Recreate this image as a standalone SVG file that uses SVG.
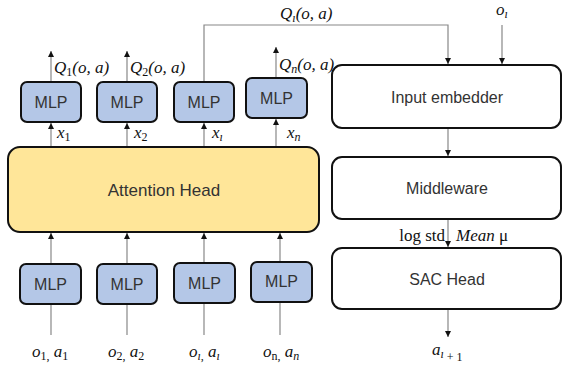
<svg xmlns="http://www.w3.org/2000/svg" width="564" height="375" viewBox="0 0 564 375">
<defs>
<marker id="ah" viewBox="0 0 8 8" refX="8" refY="4" markerWidth="6" markerHeight="6" markerUnits="userSpaceOnUse" orient="auto">
<path d="M0,0 L8,4 L0,8 z" fill="#111"/>
</marker>
<style>
.mlp{fill:#B4C7E7;stroke:#111;stroke-width:2}
.box{fill:#fff;stroke:#111;stroke-width:2}
.att{fill:#FFE699;stroke:#111;stroke-width:2}
.lbl{font-family:"Liberation Sans","Noto Sans",sans-serif;font-size:16px;fill:#333;text-anchor:middle}
.m{font-family:"Liberation Serif","DejaVu Serif",serif;font-style:italic;font-size:17px;fill:#111}
.r{font-family:"Liberation Serif","DejaVu Serif",serif;font-style:normal;font-size:17px;fill:#111}
.s{font-size:12px}
.c{fill:none;stroke:#888;stroke-width:1.2}
</style>
</defs>

<g id="connectors">
<path class="c" d="M51,335 V264" marker-end="url(#ah)"/>
<path class="c" d="M127,335 V264" marker-end="url(#ah)"/>
<path class="c" d="M204,335 V263" marker-end="url(#ah)"/>
<path class="c" d="M280,335 V262" marker-end="url(#ah)"/>
<path class="c" d="M51,263 V233" marker-end="url(#ah)"/>
<path class="c" d="M127,263 V233" marker-end="url(#ah)"/>
<path class="c" d="M204,262 V233" marker-end="url(#ah)"/>
<path class="c" d="M280,261 V233" marker-end="url(#ah)"/>
<path class="c" d="M51,147 V123" marker-end="url(#ah)"/>
<path class="c" d="M127,147 V123" marker-end="url(#ah)"/>
<path class="c" d="M204,147 V123" marker-end="url(#ah)"/>
<path class="c" d="M276,147 V119" marker-end="url(#ah)"/>
<path class="c" d="M51,82 V51" marker-end="url(#ah)"/>
<path class="c" d="M127,82 V51" marker-end="url(#ah)"/>
<path class="c" d="M276,78 V47" marker-end="url(#ah)"/>
<path class="c" d="M204,82 V25 H448 V64" marker-end="url(#ah)"/>
<path class="c" d="M502,25 V64" marker-end="url(#ah)"/>
<path class="c" d="M448,129 V156" marker-end="url(#ah)"/>
<path class="c" d="M448,220 V247" marker-end="url(#ah)"/>
<path class="c" d="M448,310 V337" marker-end="url(#ah)"/>
</g>

<g id="mlp-top-1"><rect class="mlp" x="21" y="82" width="60" height="40" rx="6"/><text class="lbl" x="51" y="108">MLP</text></g>
<g id="mlp-top-2"><rect class="mlp" x="97" y="82" width="60" height="40" rx="6"/><text class="lbl" x="127" y="108">MLP</text></g>
<g id="mlp-top-3"><rect class="mlp" x="174" y="82" width="60" height="40" rx="6"/><text class="lbl" x="204" y="108">MLP</text></g>
<g id="mlp-top-4"><rect class="mlp" x="246" y="78" width="61" height="40" rx="6"/><text class="lbl" x="276.5" y="104">MLP</text></g>

<g id="attention-head"><rect class="att" x="8" y="147" width="311" height="85" rx="12"/><text class="lbl" x="164" y="196" style="font-size:17px">Attention Head</text></g>

<g id="mlp-bot-1"><rect class="mlp" x="20" y="264" width="61" height="40" rx="6"/><text class="lbl" x="50.5" y="290">MLP</text></g>
<g id="mlp-bot-2"><rect class="mlp" x="97" y="264" width="60" height="40" rx="6"/><text class="lbl" x="127" y="290">MLP</text></g>
<g id="mlp-bot-3"><rect class="mlp" x="174" y="263" width="61" height="40" rx="6"/><text class="lbl" x="204.5" y="289">MLP</text></g>
<g id="mlp-bot-4"><rect class="mlp" x="251" y="262" width="61" height="40" rx="6"/><text class="lbl" x="281.5" y="287">MLP</text></g>

<g id="input-embedder"><rect class="box" x="332" y="65" width="229" height="63" rx="10"/><text class="lbl" x="447" y="103">Input embedder</text></g>
<g id="middleware"><rect class="box" x="332" y="157" width="229" height="62" rx="10"/><text class="lbl" x="447" y="194">Middleware</text></g>
<g id="sac-head"><rect class="box" x="332" y="248" width="229" height="61" rx="10"/><text class="lbl" x="447" y="285">SAC Head</text></g>

<g id="labels">
<text class="m" x="54" y="73">Q<tspan class="r s" dy="3">1</tspan><tspan dy="-3">(o, a)</tspan></text>
<text class="m" x="130" y="73">Q<tspan class="r s" dy="3">2</tspan><tspan dy="-3">(o, a)</tspan></text>
<text class="m" x="279" y="70">Q<tspan class="s" dy="3">n</tspan><tspan dy="-3">(o, a)</tspan></text>
<text class="m" x="280" y="19">Q<tspan class="s" dy="3">ı</tspan><tspan dy="-3">(o, a)</tspan></text>
<text class="m" x="496" y="15">o<tspan class="s" dy="3">ı</tspan></text>
<text class="m" x="57" y="138">x<tspan class="r s" dy="3">1</tspan></text>
<text class="m" x="134" y="138">x<tspan class="r s" dy="3">2</tspan></text>
<text class="m" x="212" y="138">x<tspan class="s" dy="3">ı</tspan></text>
<text class="m" x="287" y="138">x<tspan class="s" dy="3">n</tspan></text>
<text class="m" x="32" y="357">o<tspan class="r s" dy="3">1,</tspan><tspan dy="-3"> a</tspan><tspan class="r s" dy="3">1</tspan></text>
<text class="m" x="108" y="357">o<tspan class="r s" dy="3">2,</tspan><tspan dy="-3"> a</tspan><tspan class="r s" dy="3">2</tspan></text>
<text class="m" x="189" y="357">o<tspan class="s" dy="3">ı</tspan><tspan class="r s">,</tspan><tspan dy="-3"> a</tspan><tspan class="s" dy="3">ı</tspan></text>
<text class="m" x="263" y="357">o<tspan class="r s" dy="3">n,</tspan><tspan dy="-3"> a</tspan><tspan class="s" dy="3">n</tspan></text>
<text class="r" x="445" y="241" text-anchor="end">log std</text>
<text class="m" x="456" y="241">Mean <tspan class="r">μ</tspan></text>
<text class="m" x="432" y="355">a<tspan class="s" dy="3">ı</tspan><tspan class="r s" dy="3"> + 1</tspan></text>
</g>
</svg>
